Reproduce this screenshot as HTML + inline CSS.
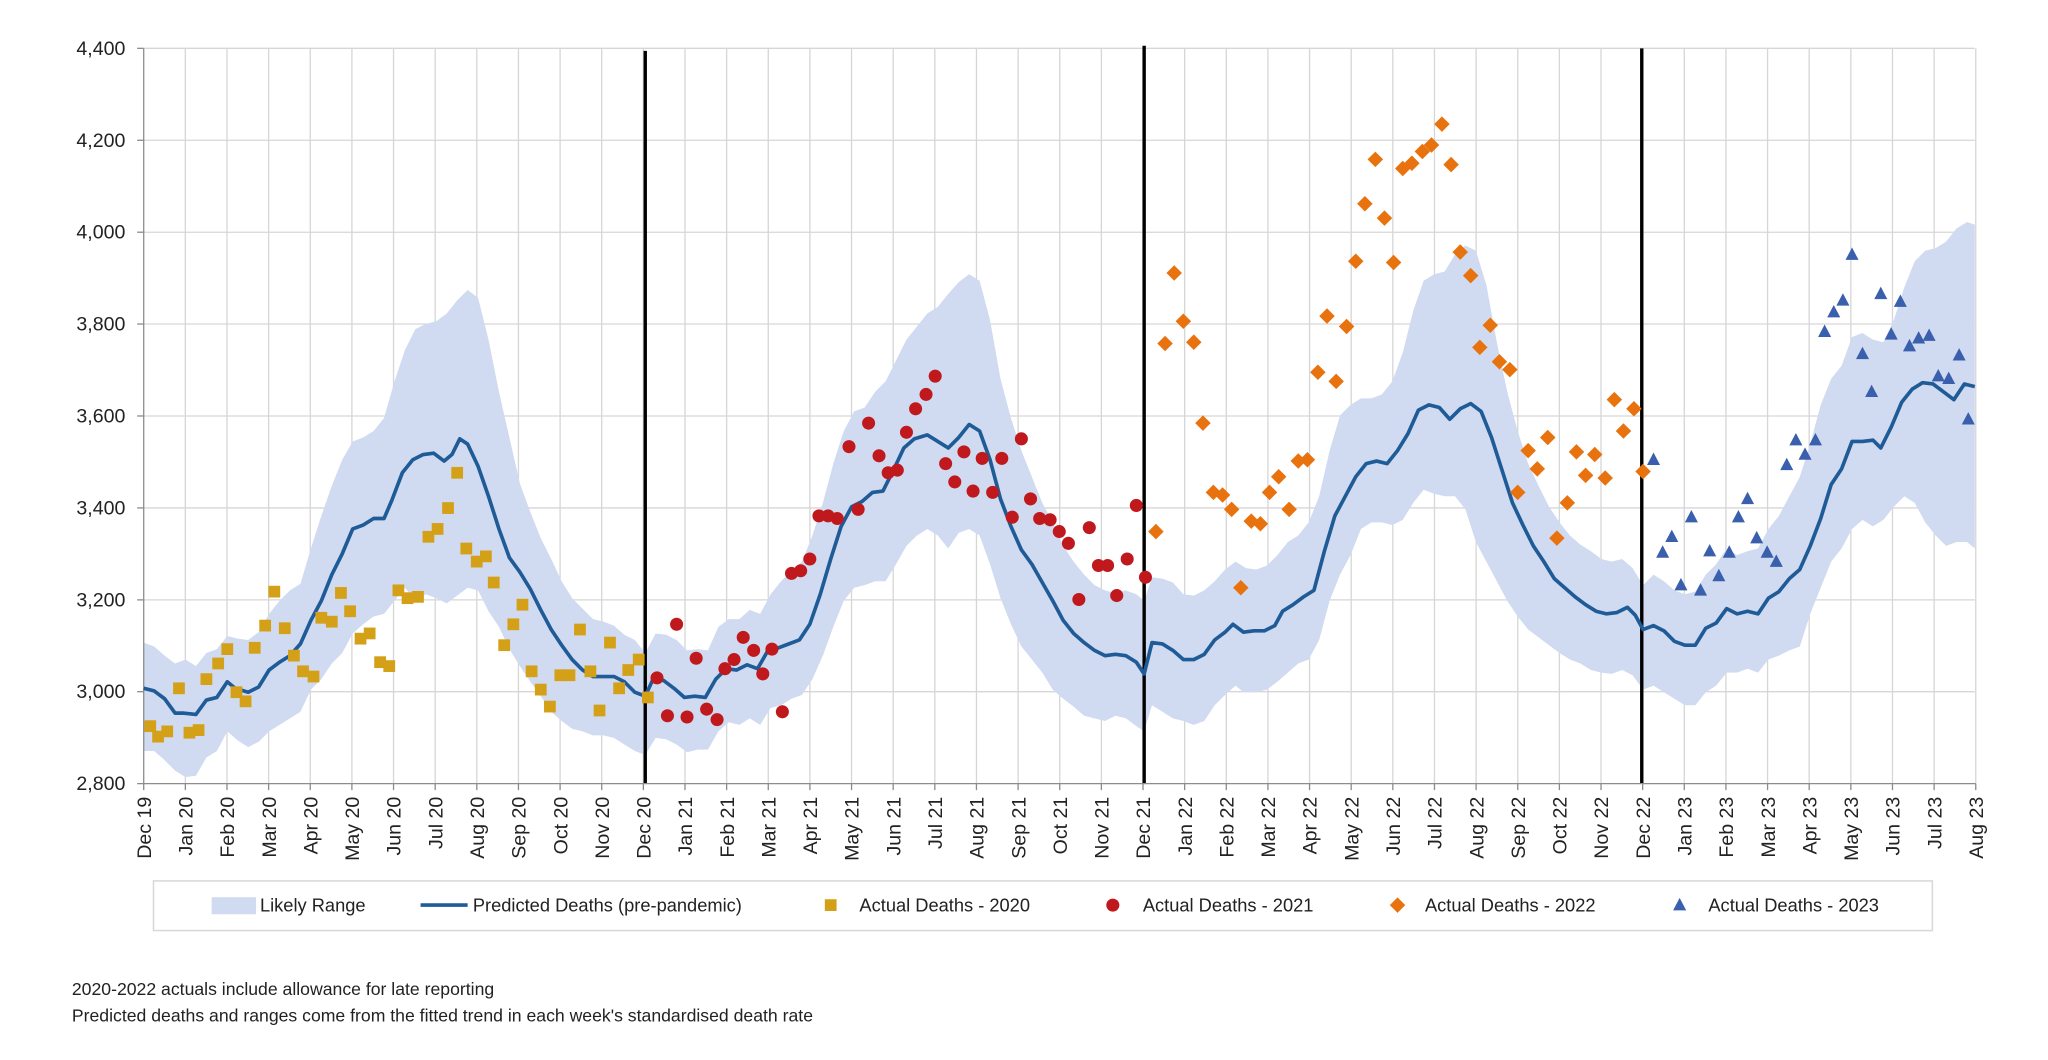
<!DOCTYPE html>
<html><head><meta charset="utf-8"><style>html,body{margin:0;padding:0;background:#fff}svg{display:block}</style></head>
<body>
<svg width="2048" height="1060" viewBox="0 0 1568 811.6" xmlns="http://www.w3.org/2000/svg" xmlns:xlink="http://www.w3.org/1999/xlink" font-family="'Liberation Sans', Arial, sans-serif">
<defs>
<rect id="sq" x="-4.5" y="-4.5" width="9" height="9" fill="#d4a017"/>
<circle id="ci" r="5" fill="#c0191d"/>
<rect id="di" x="-4.2" y="-4.2" width="8.4" height="8.4" fill="#e8730e" transform="rotate(45)"/>
<polygon id="tr" points="0,-5.5 5,4 -5,4" fill="#3a5fad"/>
</defs>
<rect width="1568" height="811.6" fill="#fff"/>
<g stroke="#d6d6d6" stroke-width="1">
<line x1="110" y1="37" x2="1512" y2="37"/><line x1="110" y1="107.4" x2="1512" y2="107.4"/><line x1="110" y1="177.8" x2="1512" y2="177.8"/><line x1="110" y1="248.1" x2="1512" y2="248.1"/><line x1="110" y1="318.5" x2="1512" y2="318.5"/><line x1="110" y1="388.9" x2="1512" y2="388.9"/><line x1="110" y1="459.3" x2="1512" y2="459.3"/><line x1="110" y1="529.6" x2="1512" y2="529.6"/>
</g>
<path stroke="#d6d6d6" stroke-width="1" fill="none" d="M141.88 37V600M173.76 37V600M205.64 37V600M237.52 37V600M269.4 37V600M301.28 37V600M333.16 37V600M365.04 37V600M396.92 37V600M428.8 37V600M460.68 37V600M492.56 37V600M524.44 37V600M556.32 37V600M588.2 37V600M620.08 37V600M651.96 37V600M683.84 37V600M715.72 37V600M747.6 37V600M779.48 37V600M811.36 37V600M843.24 37V600M875.12 37V600M907 37V600M938.88 37V600M970.76 37V600M1002.64 37V600M1034.52 37V600M1066.4 37V600M1098.28 37V600M1130.16 37V600M1162.04 37V600M1193.92 37V600M1225.8 37V600M1257.68 37V600M1289.56 37V600M1321.44 37V600M1353.32 37V600M1385.2 37V600M1417.08 37V600M1448.96 37V600M1480.84 37V600M1512.72 37V600"/>
<polygon fill="#d0dbf1" points="110,492 118,495 126,502 134,508 142,505 150,510 158,500 166,497 174,487 182,489 190,490 198,484 206,470 214,460 222,452 230,447 238,420 246,395 254,372 262,352 270,338 278,335 286,330 294,320 302,292 310,268 318,252 326,248 334,246 342,240 350,230 358,222 366,228 374,260 382,300 390,335 398,370 406,392 414,412 422,428 430,445 438,458 446,466 454,474 462,476 470,479 478,486 486,490 494,500 502,485 510,486 518,490 526,498 534,497 542,498 550,480 558,474 566,474 574,467 582,470 590,455 598,445 606,437 614,430 622,410 630,385 638,355 646,330 654,315 662,312 670,300 678,292 686,276 694,260 702,250 710,240 718,235 726,225 734,216 742,210 750,215 758,245 766,290 774,320 782,345 790,365 798,385 806,400 814,418 822,430 830,440 838,448 846,452 854,454 862,452 870,455 876,460 882,442 890,443 898,446 906,455 914,456 922,452 930,445 938,436 946,430 954,435 962,436 970,433 978,425 986,415 994,410 1002,400 1010,380 1018,345 1026,318 1034,310 1042,305 1050,305 1058,302 1066,292 1074,270 1082,238 1090,215 1098,210 1106,208 1114,195 1122,188 1130,192 1138,218 1146,262 1154,300 1162,330 1170,355 1178,372 1186,388 1194,400 1202,410 1210,417 1218,422 1226,428 1234,430 1242,428 1250,435 1258,448 1266,440 1274,445 1282,452 1290,455 1298,453 1306,440 1314,432 1322,420 1330,425 1338,422 1346,420 1354,405 1362,395 1370,380 1378,365 1386,340 1394,310 1402,290 1410,280 1418,258 1426,255 1434,260 1442,262 1450,245 1458,220 1466,200 1474,192 1482,190 1490,185 1498,175 1506,170 1512,172 1512,420 1506,415 1498,415 1490,418 1482,410 1474,400 1466,385 1458,380 1450,388 1442,398 1434,403 1426,398 1418,405 1410,420 1402,430 1394,450 1386,470 1378,495 1370,498 1362,502 1354,505 1346,515 1338,512 1330,515 1322,515 1314,525 1306,530 1298,540 1290,540 1282,535 1274,530 1266,525 1258,528 1250,517 1242,513 1234,516 1226,515 1218,513 1210,508 1202,505 1194,500 1186,494 1178,488 1170,482 1162,472 1154,460 1146,445 1138,430 1130,415 1122,390 1114,380 1106,380 1098,378 1090,375 1082,385 1074,398 1066,402 1058,400 1050,400 1042,405 1034,425 1026,440 1018,460 1010,490 1002,505 994,508 986,515 978,522 970,528 962,530 952,530 946,525 938,532 930,540 922,552 914,555 906,552 898,550 890,545 882,540 876,560 870,556 862,550 854,548 846,552 838,550 830,548 822,541 814,535 806,528 798,515 790,505 782,495 774,478 766,458 758,432 750,410 742,405 734,408 726,420 718,410 710,405 702,410 694,418 686,432 678,445 670,445 662,448 654,450 646,460 638,480 630,502 622,520 614,532 606,535 598,540 590,542 582,555 574,550 566,555 558,553 550,560 542,574 534,574 526,576 518,570 510,566 502,565 494,578 486,575 478,570 470,565 462,563 454,563 446,560 438,558 430,552 422,545 414,533 406,522 398,510 390,497 382,480 374,468 366,452 358,450 350,456 342,462 334,458 326,455 318,460 310,450 302,460 294,470 286,472 278,478 270,485 262,500 254,508 246,520 238,528 230,545 222,550 214,555 206,560 198,568 190,572 182,567 174,560 166,575 158,580 150,594 142,595 134,590 126,582 118,575 110,575"/>
<g stroke="#000" stroke-width="2.6">
<line x1="494" y1="39" x2="494" y2="600"/><line x1="876" y1="35" x2="876" y2="600"/><line x1="1257" y1="37" x2="1257" y2="600"/>
</g>
<g stroke="#8c8c8c" stroke-width="1">
<line x1="110" y1="37" x2="110" y2="600"/><line x1="110" y1="600" x2="1512.7" y2="600"/>
<line x1="105" y1="37" x2="110" y2="37"/><line x1="105" y1="107.4" x2="110" y2="107.4"/><line x1="105" y1="177.8" x2="110" y2="177.8"/><line x1="105" y1="248.1" x2="110" y2="248.1"/><line x1="105" y1="318.5" x2="110" y2="318.5"/><line x1="105" y1="388.9" x2="110" y2="388.9"/><line x1="105" y1="459.3" x2="110" y2="459.3"/><line x1="105" y1="529.6" x2="110" y2="529.6"/><line x1="105" y1="600" x2="110" y2="600"/>
</g>
<path stroke="#8c8c8c" stroke-width="1" fill="none" d="M110 600v5M141.88 600v5M173.76 600v5M205.64 600v5M237.52 600v5M269.4 600v5M301.28 600v5M333.16 600v5M365.04 600v5M396.92 600v5M428.8 600v5M460.68 600v5M492.56 600v5M524.44 600v5M556.32 600v5M588.2 600v5M620.08 600v5M651.96 600v5M683.84 600v5M715.72 600v5M747.6 600v5M779.48 600v5M811.36 600v5M843.24 600v5M875.12 600v5M907 600v5M938.88 600v5M970.76 600v5M1002.64 600v5M1034.52 600v5M1066.4 600v5M1098.28 600v5M1130.16 600v5M1162.04 600v5M1193.92 600v5M1225.8 600v5M1257.68 600v5M1289.56 600v5M1321.44 600v5M1353.32 600v5M1385.2 600v5M1417.08 600v5M1448.96 600v5M1480.84 600v5M1512.72 600v5"/>
<polyline fill="none" stroke="#1f5b96" stroke-width="2.8" stroke-linejoin="round" points="110,527 118,529 126,535 134,546 140,546 150,547 158,536 166,534 174,522 180,527 190,530 198,526 206,513 214,507 222,502 230,493 238,475 246,460 254,440 262,424 270,405 278,402 286,397 294,397 300,383 308,362 316,352 324,348 332,347 340,353 346,348 352,336 358,340 366,357 374,380 382,405 390,427 398,438 406,451 414,467 422,482 430,494 438,505 446,513 454,518 462,518 470,518 478,522 486,530 494,533 500,520 508,521 516,527 524,534 532,533 540,534 548,520 556,512 564,513 572,509 580,512 588,498 596,496 604,493 612,490 620,478 628,455 636,428 644,403 652,388 660,384 668,377 676,376 684,360 692,343 700,336 710,333 718,338 726,343 734,335 742,325 750,330 758,352 766,382 774,403 782,421 790,432 798,446 806,460 814,475 822,485 830,492 838,498 846,502 854,501 862,502 870,507 876,516 882,492 890,493 898,498 906,505 914,505 922,501 930,490 938,484 944,478 952,484 960,483 968,483 976,479 982,468 990,463 998,457 1006,452 1014,422 1022,395 1030,380 1038,365 1046,355 1054,353 1062,355 1070,345 1078,332 1086,314 1094,310 1102,312 1110,321 1118,313 1126,309 1134,315 1142,335 1150,360 1158,385 1166,402 1174,418 1182,430 1190,443 1198,450 1206,457 1214,463 1222,468 1230,470 1238,469 1246,465 1252,471 1258,482 1266,479 1274,483 1282,491 1290,494 1298,494 1306,481 1314,477 1322,466 1330,470 1338,468 1346,470 1354,458 1362,453 1370,443 1378,436 1386,418 1394,397 1402,371 1410,359 1418,338 1426,338 1434,337 1440,343 1448,327 1456,308 1464,298 1472,293 1480,294 1488,300 1496,306 1504,294 1512,296"/>
<g>
<use xlink:href="#sq" x="115" y="556"/><use xlink:href="#sq" x="121" y="564"/><use xlink:href="#sq" x="128" y="560"/><use xlink:href="#sq" x="137" y="527"/><use xlink:href="#sq" x="145" y="561"/><use xlink:href="#sq" x="152" y="559"/><use xlink:href="#sq" x="158" y="520"/><use xlink:href="#sq" x="167" y="508"/><use xlink:href="#sq" x="174" y="497"/><use xlink:href="#sq" x="181" y="530"/><use xlink:href="#sq" x="188" y="537"/><use xlink:href="#sq" x="195" y="496"/><use xlink:href="#sq" x="203" y="479"/><use xlink:href="#sq" x="210" y="453"/><use xlink:href="#sq" x="218" y="481"/><use xlink:href="#sq" x="225" y="502"/><use xlink:href="#sq" x="232" y="514"/><use xlink:href="#sq" x="240" y="518"/><use xlink:href="#sq" x="246" y="473"/><use xlink:href="#sq" x="254" y="476"/><use xlink:href="#sq" x="261" y="454"/><use xlink:href="#sq" x="268" y="468"/><use xlink:href="#sq" x="276" y="489"/><use xlink:href="#sq" x="283" y="485"/><use xlink:href="#sq" x="291" y="507"/><use xlink:href="#sq" x="298" y="510"/><use xlink:href="#sq" x="305" y="452"/><use xlink:href="#sq" x="312" y="458"/><use xlink:href="#sq" x="320" y="457"/><use xlink:href="#sq" x="328" y="411"/><use xlink:href="#sq" x="335" y="405"/><use xlink:href="#sq" x="343" y="389"/><use xlink:href="#sq" x="350" y="362"/><use xlink:href="#sq" x="357" y="420"/><use xlink:href="#sq" x="365" y="430"/><use xlink:href="#sq" x="372" y="426"/><use xlink:href="#sq" x="378" y="446"/><use xlink:href="#sq" x="386" y="494"/><use xlink:href="#sq" x="393" y="478"/><use xlink:href="#sq" x="400" y="463"/><use xlink:href="#sq" x="407" y="514"/><use xlink:href="#sq" x="414" y="528"/><use xlink:href="#sq" x="421" y="541"/><use xlink:href="#sq" x="429" y="517"/><use xlink:href="#sq" x="436" y="517"/><use xlink:href="#sq" x="444" y="482"/><use xlink:href="#sq" x="452" y="514"/><use xlink:href="#sq" x="459" y="544"/><use xlink:href="#sq" x="467" y="492"/><use xlink:href="#sq" x="474" y="527"/><use xlink:href="#sq" x="481" y="513"/><use xlink:href="#sq" x="489" y="505"/><use xlink:href="#sq" x="496" y="534"/>
<use xlink:href="#ci" x="503" y="519"/><use xlink:href="#ci" x="511" y="548"/><use xlink:href="#ci" x="518" y="478"/><use xlink:href="#ci" x="526" y="549"/><use xlink:href="#ci" x="533" y="504"/><use xlink:href="#ci" x="541" y="543"/><use xlink:href="#ci" x="549" y="551"/><use xlink:href="#ci" x="555" y="512"/><use xlink:href="#ci" x="562" y="505"/><use xlink:href="#ci" x="569" y="488"/><use xlink:href="#ci" x="577" y="498"/><use xlink:href="#ci" x="584" y="516"/><use xlink:href="#ci" x="591" y="497"/><use xlink:href="#ci" x="599" y="545"/><use xlink:href="#ci" x="606" y="439"/><use xlink:href="#ci" x="613" y="437"/><use xlink:href="#ci" x="620" y="428"/><use xlink:href="#ci" x="627" y="395"/><use xlink:href="#ci" x="634" y="395"/><use xlink:href="#ci" x="641" y="397"/><use xlink:href="#ci" x="650" y="342"/><use xlink:href="#ci" x="657" y="390"/><use xlink:href="#ci" x="665" y="324"/><use xlink:href="#ci" x="673" y="349"/><use xlink:href="#ci" x="680" y="362"/><use xlink:href="#ci" x="687" y="360"/><use xlink:href="#ci" x="694" y="331"/><use xlink:href="#ci" x="701" y="313"/><use xlink:href="#ci" x="709" y="302"/><use xlink:href="#ci" x="716" y="288"/><use xlink:href="#ci" x="724" y="355"/><use xlink:href="#ci" x="731" y="369"/><use xlink:href="#ci" x="738" y="346"/><use xlink:href="#ci" x="745" y="376"/><use xlink:href="#ci" x="752" y="351"/><use xlink:href="#ci" x="760" y="377"/><use xlink:href="#ci" x="767" y="351"/><use xlink:href="#ci" x="775" y="396"/><use xlink:href="#ci" x="782" y="336"/><use xlink:href="#ci" x="789" y="382"/><use xlink:href="#ci" x="796" y="397"/><use xlink:href="#ci" x="804" y="398"/><use xlink:href="#ci" x="811" y="407"/><use xlink:href="#ci" x="818" y="416"/><use xlink:href="#ci" x="826" y="459"/><use xlink:href="#ci" x="834" y="404"/><use xlink:href="#ci" x="841" y="433"/><use xlink:href="#ci" x="848" y="433"/><use xlink:href="#ci" x="855" y="456"/><use xlink:href="#ci" x="863" y="428"/><use xlink:href="#ci" x="870" y="387"/><use xlink:href="#ci" x="877" y="442"/>
<use xlink:href="#di" x="885" y="407"/><use xlink:href="#di" x="892" y="263"/><use xlink:href="#di" x="899" y="209"/><use xlink:href="#di" x="906" y="246"/><use xlink:href="#di" x="914" y="262"/><use xlink:href="#di" x="921" y="324"/><use xlink:href="#di" x="929" y="377"/><use xlink:href="#di" x="936" y="379"/><use xlink:href="#di" x="943" y="390"/><use xlink:href="#di" x="950" y="450"/><use xlink:href="#di" x="958" y="399"/><use xlink:href="#di" x="965" y="401"/><use xlink:href="#di" x="972" y="377"/><use xlink:href="#di" x="979" y="365"/><use xlink:href="#di" x="987" y="390"/><use xlink:href="#di" x="994" y="353"/><use xlink:href="#di" x="1001" y="352"/><use xlink:href="#di" x="1009" y="285"/><use xlink:href="#di" x="1016" y="242"/><use xlink:href="#di" x="1023" y="292"/><use xlink:href="#di" x="1031" y="250"/><use xlink:href="#di" x="1038" y="200"/><use xlink:href="#di" x="1045" y="156"/><use xlink:href="#di" x="1053" y="122"/><use xlink:href="#di" x="1060" y="167"/><use xlink:href="#di" x="1067" y="201"/><use xlink:href="#di" x="1074" y="129"/><use xlink:href="#di" x="1081" y="125"/><use xlink:href="#di" x="1089" y="116"/><use xlink:href="#di" x="1096" y="111"/><use xlink:href="#di" x="1104" y="95"/><use xlink:href="#di" x="1111" y="126"/><use xlink:href="#di" x="1118" y="193"/><use xlink:href="#di" x="1126" y="211"/><use xlink:href="#di" x="1133" y="266"/><use xlink:href="#di" x="1141" y="249"/><use xlink:href="#di" x="1148" y="277"/><use xlink:href="#di" x="1156" y="283"/><use xlink:href="#di" x="1162" y="377"/><use xlink:href="#di" x="1170" y="345"/><use xlink:href="#di" x="1177" y="359"/><use xlink:href="#di" x="1185" y="335"/><use xlink:href="#di" x="1192" y="412"/><use xlink:href="#di" x="1200" y="385"/><use xlink:href="#di" x="1207" y="346"/><use xlink:href="#di" x="1214" y="364"/><use xlink:href="#di" x="1221" y="348"/><use xlink:href="#di" x="1229" y="366"/><use xlink:href="#di" x="1236" y="306"/><use xlink:href="#di" x="1243" y="330"/><use xlink:href="#di" x="1251" y="313"/><use xlink:href="#di" x="1258" y="361"/>
<use xlink:href="#tr" x="1266" y="352"/><use xlink:href="#tr" x="1273" y="423"/><use xlink:href="#tr" x="1280" y="411"/><use xlink:href="#tr" x="1287" y="448"/><use xlink:href="#tr" x="1295" y="396"/><use xlink:href="#tr" x="1302" y="452"/><use xlink:href="#tr" x="1309" y="422"/><use xlink:href="#tr" x="1316" y="441"/><use xlink:href="#tr" x="1324" y="423"/><use xlink:href="#tr" x="1331" y="396"/><use xlink:href="#tr" x="1338" y="382"/><use xlink:href="#tr" x="1345" y="412"/><use xlink:href="#tr" x="1353" y="423"/><use xlink:href="#tr" x="1360" y="430"/><use xlink:href="#tr" x="1368" y="356"/><use xlink:href="#tr" x="1375" y="337"/><use xlink:href="#tr" x="1382" y="348"/><use xlink:href="#tr" x="1390" y="337"/><use xlink:href="#tr" x="1397" y="254"/><use xlink:href="#tr" x="1404" y="239"/><use xlink:href="#tr" x="1411" y="230"/><use xlink:href="#tr" x="1418" y="195"/><use xlink:href="#tr" x="1426" y="271"/><use xlink:href="#tr" x="1433" y="300"/><use xlink:href="#tr" x="1440" y="225"/><use xlink:href="#tr" x="1448" y="256"/><use xlink:href="#tr" x="1455" y="231"/><use xlink:href="#tr" x="1462" y="265"/><use xlink:href="#tr" x="1469" y="259"/><use xlink:href="#tr" x="1477" y="257"/><use xlink:href="#tr" x="1484" y="288"/><use xlink:href="#tr" x="1492" y="290"/><use xlink:href="#tr" x="1500" y="272"/><use xlink:href="#tr" x="1507" y="321"/>
</g>
<g font-size="15" fill="#222" text-anchor="end">
<text x="96" y="42">4,400</text><text x="96" y="112.4">4,200</text><text x="96" y="182.8">4,000</text><text x="96" y="253.1">3,800</text><text x="96" y="323.5">3,600</text><text x="96" y="393.9">3,400</text><text x="96" y="464.3">3,200</text><text x="96" y="534.6">3,000</text><text x="96" y="605">2,800</text>
</g>
<g font-size="15" fill="#222" text-anchor="end">
<text transform="translate(115.5,610) rotate(-90)">Dec 19</text>
<text transform="translate(147.38,610) rotate(-90)">Jan 20</text>
<text transform="translate(179.26,610) rotate(-90)">Feb 20</text>
<text transform="translate(211.14,610) rotate(-90)">Mar 20</text>
<text transform="translate(243.02,610) rotate(-90)">Apr 20</text>
<text transform="translate(274.9,610) rotate(-90)">May 20</text>
<text transform="translate(306.78,610) rotate(-90)">Jun 20</text>
<text transform="translate(338.66,610) rotate(-90)">Jul 20</text>
<text transform="translate(370.54,610) rotate(-90)">Aug 20</text>
<text transform="translate(402.42,610) rotate(-90)">Sep 20</text>
<text transform="translate(434.3,610) rotate(-90)">Oct 20</text>
<text transform="translate(466.18,610) rotate(-90)">Nov 20</text>
<text transform="translate(498.06,610) rotate(-90)">Dec 20</text>
<text transform="translate(529.94,610) rotate(-90)">Jan 21</text>
<text transform="translate(561.82,610) rotate(-90)">Feb 21</text>
<text transform="translate(593.7,610) rotate(-90)">Mar 21</text>
<text transform="translate(625.58,610) rotate(-90)">Apr 21</text>
<text transform="translate(657.46,610) rotate(-90)">May 21</text>
<text transform="translate(689.34,610) rotate(-90)">Jun 21</text>
<text transform="translate(721.22,610) rotate(-90)">Jul 21</text>
<text transform="translate(753.1,610) rotate(-90)">Aug 21</text>
<text transform="translate(784.98,610) rotate(-90)">Sep 21</text>
<text transform="translate(816.86,610) rotate(-90)">Oct 21</text>
<text transform="translate(848.74,610) rotate(-90)">Nov 21</text>
<text transform="translate(880.62,610) rotate(-90)">Dec 21</text>
<text transform="translate(912.5,610) rotate(-90)">Jan 22</text>
<text transform="translate(944.38,610) rotate(-90)">Feb 22</text>
<text transform="translate(976.26,610) rotate(-90)">Mar 22</text>
<text transform="translate(1008.14,610) rotate(-90)">Apr 22</text>
<text transform="translate(1040.02,610) rotate(-90)">May 22</text>
<text transform="translate(1071.9,610) rotate(-90)">Jun 22</text>
<text transform="translate(1103.78,610) rotate(-90)">Jul 22</text>
<text transform="translate(1135.66,610) rotate(-90)">Aug 22</text>
<text transform="translate(1167.54,610) rotate(-90)">Sep 22</text>
<text transform="translate(1199.42,610) rotate(-90)">Oct 22</text>
<text transform="translate(1231.3,610) rotate(-90)">Nov 22</text>
<text transform="translate(1263.18,610) rotate(-90)">Dec 22</text>
<text transform="translate(1295.06,610) rotate(-90)">Jan 23</text>
<text transform="translate(1326.94,610) rotate(-90)">Feb 23</text>
<text transform="translate(1358.82,610) rotate(-90)">Mar 23</text>
<text transform="translate(1390.7,610) rotate(-90)">Apr 23</text>
<text transform="translate(1422.58,610) rotate(-90)">May 23</text>
<text transform="translate(1454.46,610) rotate(-90)">Jun 23</text>
<text transform="translate(1486.34,610) rotate(-90)">Jul 23</text>
<text transform="translate(1518.22,610) rotate(-90)">Aug 23</text>
</g>
<rect x="117.5" y="674.5" width="1362" height="38" fill="#fff" stroke="#d9d9d9" stroke-width="1.2"/>
<g font-family="'Liberation Sans Narrow','Liberation Sans',sans-serif" font-size="14" fill="#222">
<rect x="162" y="687" width="34" height="13" fill="#d0dbf1"/><text x="199" y="698">Likely Range</text>
<line x1="322" y1="693" x2="358" y2="693" stroke="#1f5b96" stroke-width="2.8"/><text x="362" y="698">Predicted Deaths (pre-pandemic)</text>
<use xlink:href="#sq" x="636" y="693"/><text x="658" y="698">Actual Deaths - 2020</text>
<use xlink:href="#ci" x="852" y="693"/><text x="875" y="698">Actual Deaths - 2021</text>
<use xlink:href="#di" x="1070" y="693"/><text x="1091" y="698">Actual Deaths - 2022</text>
<use xlink:href="#tr" x="1286" y="693"/><text x="1308" y="698">Actual Deaths - 2023</text>
</g>
<g font-family="'Liberation Sans Narrow','Liberation Sans',sans-serif" font-size="13.5" fill="#222">
<text x="55" y="762">2020-2022  actuals include allowance for late reporting</text>
<text x="55" y="782">Predicted deaths and ranges come from the fitted trend in each week's standardised death rate</text>
</g>
</svg>
</body></html>
